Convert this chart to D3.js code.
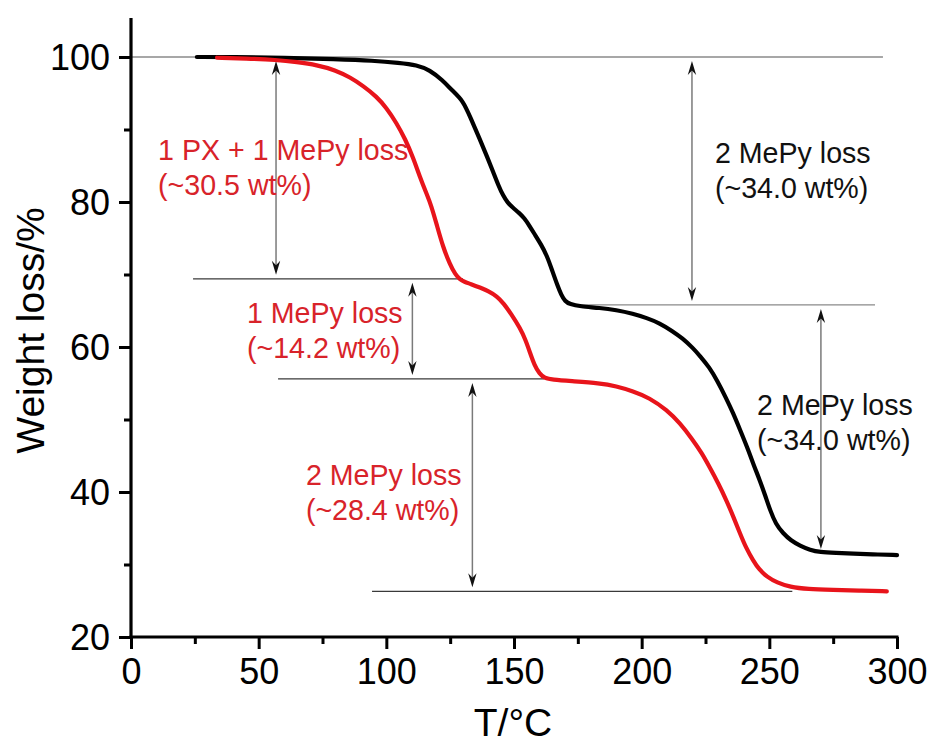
<!DOCTYPE html>
<html>
<head>
<meta charset="utf-8">
<script src="https://cdn.jsdelivr.net/npm/d3@7"></script>
<style>
  html, body { margin: 0; padding: 0; background: #fff; }
  svg { display: block; font-family: "Liberation Sans", Arial, sans-serif; }
</style>
</head>
<body>
<svg id="chart" width="932" height="744"></svg>
<script>
// ---------- data ----------
const blackT = [25.8,40,60,80,95,105,112,117,122,126,130,133,136.7,139.4,141.8,144,145.7,147.5,149.6,152,154,156.3,158.5,160.5,162.9,165,167,168.5,170,171.9,175.8,183.7,190,196.6,202,207,212,216,220,223,226.5,229.5,233,235.8,238.5,241.3,244,246.3,248.5,250.3,252.5,255.4,258.5,262,266,269.8,276,283,290,300];
const blackW = [100.0,100.0,99.9,99.7,99.5,99.2,98.9,98.2,96.8,95.3,94.0,91.6,88.6,86.3,84.2,82.2,80.9,79.9,79.2,78.5,77.8,76.6,75.3,74.2,72.6,70.5,68.5,67.2,66.3,65.9,65.6,65.4,65.1,64.6,64.0,63.3,62.2,61.2,59.9,58.7,57.2,55.4,53.0,50.9,48.6,46.2,43.6,41.6,39.4,37.5,35.6,34.3,33.3,32.6,32.0,31.7,31.6,31.5,31.4,31.3];

const redT = [33.7,45,57,65,72.8,80,85.8,91,96.3,100,104,107.5,110.4,113,115.9,117.5,119.8,122.2,124.9,127,128.9,130.5,133,136.7,140,143.3,146,149,152.4,154.5,156.3,158,160,162,165,172,183.7,190,196.6,203,209.9,215,220,223.5,226.8,230,233.4,236,238.5,241,243.6,246,249.1,253,258.1,265,275,285,296];
const redW = [99.9,99.8,99.6,99.3,98.9,98.2,97.2,96.0,94.5,93.0,90.9,88.6,86.2,83.6,81.0,79.6,76.8,73.8,71.4,70.0,69.3,69.0,68.7,68.2,67.7,67.0,66.0,64.5,62.6,61.0,59.2,57.5,56.3,55.7,55.5,55.3,55.0,54.6,53.9,53.0,51.3,49.5,47.2,45.4,43.3,41.2,38.7,36.5,34.3,32.2,30.6,29.3,28.3,27.5,26.9,26.6,26.5,26.4,26.3];

const xTicks = [0,50,100,150,200,250,300];
const xMinor = [25,75,125,175,225,275];
const yTicks = [20,40,60,80,100];
const yMinor = [30,50,70,90];

// reference levels (wt%) and guide segments (T range)
const guideY  = [100, 69.4, 65.8, 55.6, 26.3];
const guideX0 = [0, 24.3, 172, 57.6, 94.4];
const guideX1 = [294.5, 130, 291.4, 162, 259];
const guideLight = [true, false, true, false, false];

// double arrows: T position, from level, to level
const arrowT  = [56.8, 110.2, 133.7, 219.7, 270.2];
const arrowY0 = [100, 69.4, 55.6, 100, 65.8];
const arrowY1 = [69.4, 55.6, 26.3, 65.8, 31.6];

// annotation labels
const labelLines = [
  ["1 PX + 1 MePy loss", "(~30.5 wt%)"],
  ["1 MePy loss", "(~14.2 wt%)"],
  ["2 MePy loss", "(~28.4 wt%)"],
  ["2 MePy loss", "(~34.0 wt%)"],
  ["2 MePy loss", "(~34.0 wt%)"]
];
const labelT = [10.6, 45.4, 68.5, 228.7, 245.2];
const labelW = [85.8, 63.3, 41.0, 85.4, 50.6];
const labelRed = [true, true, true, false, false];

// ---------- layout ----------
const svg = d3.select("#chart");
const x = d3.scaleLinear().domain([0, 300]).range([131, 897]);
const y = d3.scaleLinear().domain([20, 100]).range([637, 57]);
const yTop = 18;

const RED_LINE = "#e8141b";
const RED_TEXT = "#d8232a";

// guide lines
guideY.forEach((v, i) => {
  svg.append("line")
    .attr("x1", x(guideX0[i])).attr("x2", x(guideX1[i]))
    .attr("y1", y(v)).attr("y2", y(v))
    .attr("stroke", guideLight[i] ? "#8a8a8a" : "#3a3a3a")
    .attr("stroke-width", 1.3);
});

// arrows
const gap = 4;
arrowT.forEach((t, i) => {
  const px = x(t);
  const yA = y(arrowY0[i]) + gap;
  const yB = y(arrowY1[i]) - gap;
  svg.append("line")
    .attr("x1", px).attr("x2", px)
    .attr("y1", yA + 4).attr("y2", yB - 4)
    .attr("stroke", "#7a7a7a").attr("stroke-width", 1.5);
  svg.append("path")
    .attr("d", `M${px},${yA} L${px-4.2},${yA+14} L${px},${yA+9.5} L${px+4.2},${yA+14} Z`)
    .attr("fill", "#111");
  svg.append("path")
    .attr("d", `M${px},${yB} L${px-4.2},${yB-14} L${px},${yB-9.5} L${px+4.2},${yB-14} Z`)
    .attr("fill", "#111");
});

// curves
const line = d3.line().x(d => x(d[0])).y(d => y(d[1])).curve(d3.curveBasis);
svg.append("path")
  .datum(blackT.map((t, i) => [t, blackW[i]]))
  .attr("d", line).attr("fill", "none")
  .attr("stroke", "#000").attr("stroke-width", 4.2)
  .attr("stroke-linecap", "round").attr("stroke-linejoin", "round");
svg.append("path")
  .datum(redT.map((t, i) => [t, redW[i]]))
  .attr("d", line).attr("fill", "none")
  .attr("stroke", RED_LINE).attr("stroke-width", 4.2)
  .attr("stroke-linecap", "round").attr("stroke-linejoin", "round");

// labels
labelLines.forEach((lines, i) => {
  const g = svg.append("text")
    .attr("x", x(labelT[i])).attr("y", y(labelW[i]))
    .attr("fill", labelRed[i] ? RED_TEXT : "#111")
    .attr("font-size", 28.6);
  lines.forEach((s, j) => {
    g.append("tspan").attr("x", x(labelT[i])).attr("dy", j === 0 ? 0 : 35).text(s);
  });
});

// axes
const axisG = svg.append("g");
const xAxis = d3.axisBottom(x).tickValues(xTicks).tickSize(12).tickPadding(9).tickFormat(d3.format("d"));
const xa = axisG.append("g").attr("transform", `translate(0,${y(20)})`).call(xAxis);
const xAxisMinor = d3.axisBottom(x).tickValues(xMinor).tickSize(7).tickFormat("");
const xam = axisG.append("g").attr("transform", `translate(0,${y(20)})`).call(xAxisMinor);

const yAxis = d3.axisLeft(y).tickValues(yTicks).tickSize(12).tickPadding(9).tickFormat(d3.format("d"));
const ya = axisG.append("g").attr("transform", `translate(${x(0)},0)`).call(yAxis);
const yAxisMinor = d3.axisLeft(y).tickValues(yMinor).tickSize(7).tickFormat("");
const yam = axisG.append("g").attr("transform", `translate(${x(0)},0)`).call(yAxisMinor);

[xa, xam, ya, yam].forEach(g => {
  g.select(".domain").remove();
  g.selectAll(".tick line").attr("stroke", "#000").attr("stroke-width", 3);
  g.selectAll(".tick text").attr("fill", "#000")
    .attr("font-family", "'Liberation Sans', Arial, sans-serif").attr("font-size", 36);
});
ya.selectAll(".tick text").attr("dy", "0.36em");

// axis lines
axisG.append("line")
  .attr("x1", x(0) - 1.5).attr("x2", x(300) + 1.5)
  .attr("y1", y(20)).attr("y2", y(20))
  .attr("stroke", "#000").attr("stroke-width", 3.2);
axisG.append("line")
  .attr("x1", x(0)).attr("x2", x(0))
  .attr("y1", yTop).attr("y2", y(20) + 1.5)
  .attr("stroke", "#000").attr("stroke-width", 3.2);

// axis titles
svg.append("text")
  .attr("x", (x(0) + x(300)) / 2 - 1).attr("y", 736)
  .attr("text-anchor", "middle").attr("font-size", 39).attr("fill", "#000")
  .text("T/°C");
svg.append("text")
  .attr("transform", `translate(44, ${(y(20) + yTop) / 2 + 3}) rotate(-90)`)
  .attr("text-anchor", "middle").attr("font-size", 39).attr("fill", "#000")
  .text("Weight loss/%");
</script>
</body>
</html>
